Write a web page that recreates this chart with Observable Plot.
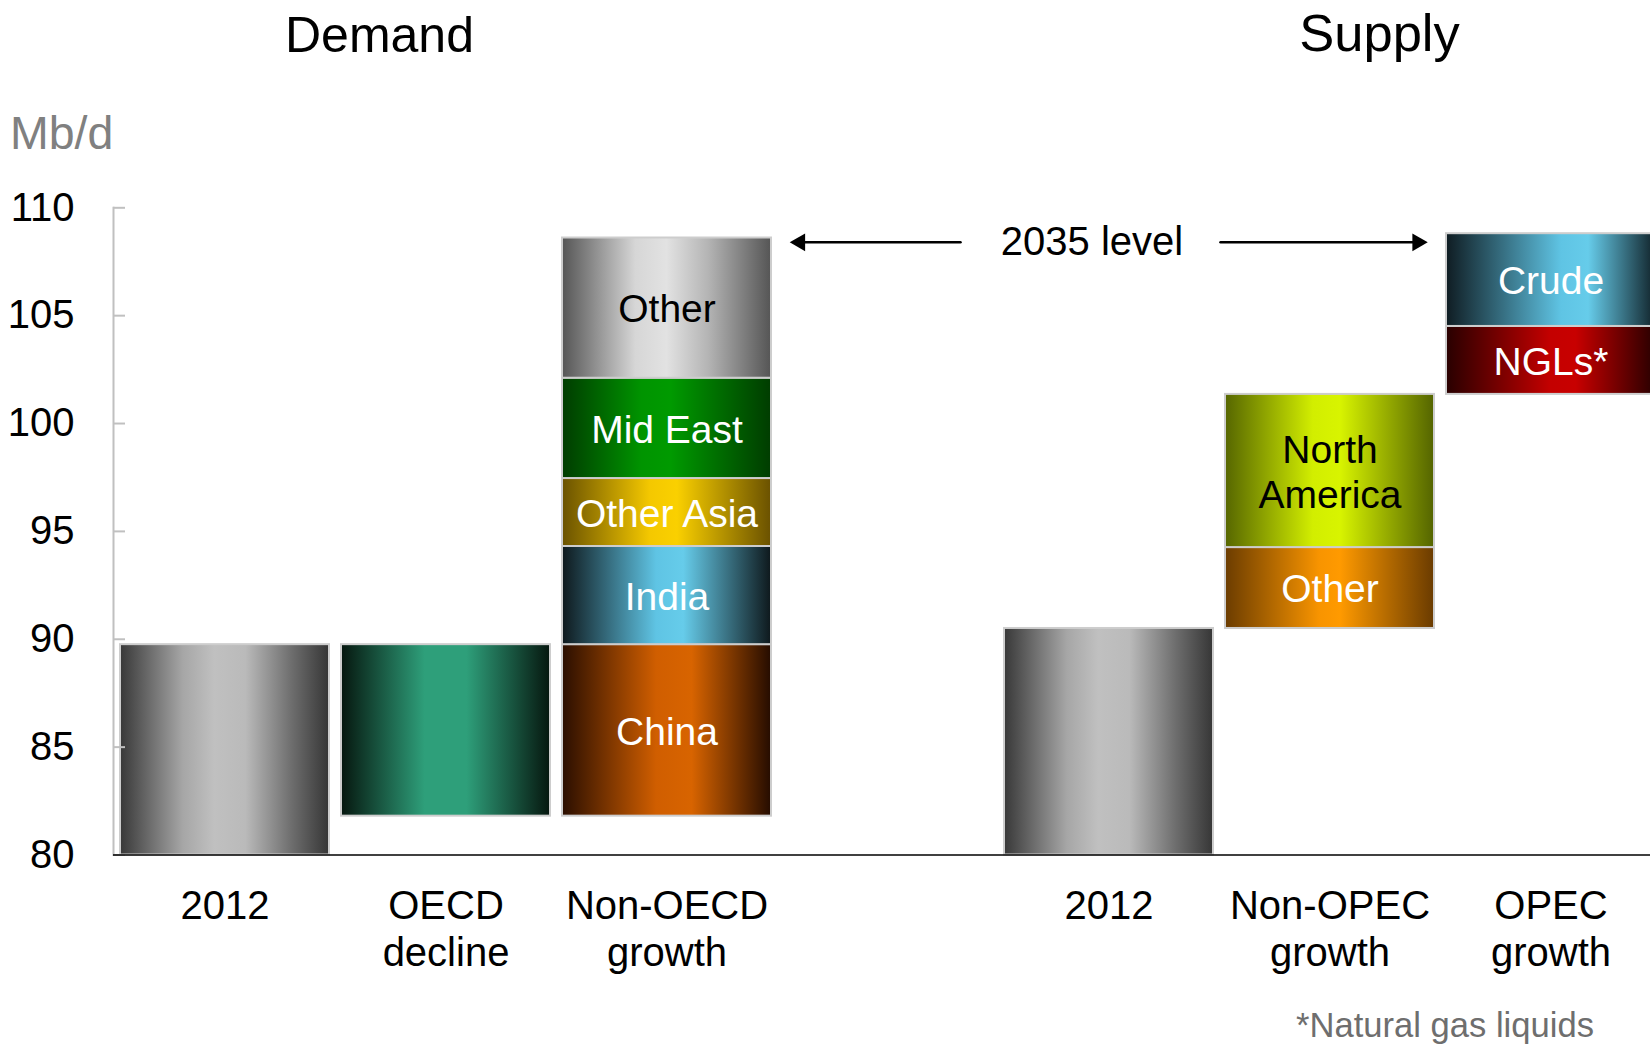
<!DOCTYPE html>
<html>
<head>
<meta charset="utf-8">
<script src="https://cdn.jsdelivr.net/npm/d3@7"></script>
<script src="https://cdn.jsdelivr.net/npm/@observablehq/plot@0.6"></script>
<style>
  html, body { margin: 0; padding: 0; background: #fff; overflow: hidden; }
  #wrap { position: relative; width: 1650px; height: 1045px; overflow: hidden; background: #fff; font-family: "Liberation Sans", Arial, sans-serif; }
  #wrap svg { position: absolute; left: 0; top: 0; max-width: none; }
  .ov { position: absolute; line-height: 1; white-space: nowrap; }
</style>
</head>
<body>
<div id="wrap">
  <div class="ov" style="left:379.5px; top:9.5px; font-size:50px; transform:translateX(-50%); color:#000;">Demand</div>
  <div class="ov" style="left:1379.5px; top:7px; font-size:52.5px; transform:translateX(-50%); color:#000;">Supply</div>
  <div class="ov" style="left:10px; top:110px; font-size:46.5px; color:#808080;">Mb/d</div>
  <div class="ov" style="left:1445px; top:1008px; font-size:34.6px; transform:translateX(-50%); color:#6e6e6e;">*Natural gas liquids</div>
</div>
<script>
// ---------------- data ----------------
const categories = ["Demand 2012", "OECD decline", "Non-OECD growth", "gap", "Supply 2012", "Non-OPEC growth", "OPEC growth"];
const tickLabels = ["2012", "OECD\ndecline", "Non-OECD\ngrowth", "", "2012", "Non-OPEC\ngrowth", "OPEC\ngrowth"];
const yTicks = [80, 85, 90, 95, 100, 105, 110];

const demand2012 = 89.75;                 // Mb/d
const oecdDecline = 7.95;                 // 89.75 -> 81.8
const nonOecdRegions = ["China", "India", "Other Asia", "Mid East", "Other"];
const nonOecdGrowth  = [7.95, 4.55, 3.15, 4.65, 6.5];

const supply2012 = 90.5;
const nonOpecSources = ["Other", "North\nAmerica"];
const nonOpecGrowth  = [3.75, 7.1];
const opecSources = ["NGLs*", "Crude"];
const opecGrowth  = [3.15, 4.3];

const level2035 = 108.4;                  // height of the "2035 level" annotation

// ---------------- styles ----------------
const FONT = "Liberation Sans, Arial, sans-serif";
const gradients = {
  "g-gray":      [[0, "#383838"], [0.3, "#a6a6a6"], [0.45, "#c0c0c0"], [0.6, "#bababa"], [0.82, "#6e6e6e"], [1, "#363636"]],
  "g-oecd":      [[0, "#06170f"], [0.4, "#2e9f7a"], [0.6, "#2e9f7a"], [1, "#06170f"]],
  "g-other-d":   [[0, "#555555"], [0.35, "#d6d6d6"], [0.5, "#e2e2e2"], [0.7, "#b4b4b4"], [1, "#555555"]],
  "g-mideast":   [[0, "#003c00"], [0.38, "#009400"], [0.52, "#009a00"], [1, "#003c00"]],
  "g-otherasia": [[0, "#6a5200"], [0.42, "#f4c800"], [0.55, "#fad000"], [1, "#6a5100"]],
  "g-india":     [[0, "#0e181c"], [0.45, "#5fc4e4"], [0.58, "#66ccea"], [1, "#0e181c"]],
  "g-china":     [[0, "#2a0e00"], [0.45, "#d05e00"], [0.62, "#d86400"], [1, "#250c00"]],
  "g-northam":   [[0, "#566600"], [0.42, "#d2ee00"], [0.55, "#d8f400"], [1, "#546400"]],
  "g-other-s":   [[0, "#6b3c00"], [0.45, "#f89400"], [0.55, "#ff9a00"], [1, "#6a3b00"]],
  "g-crude":     [[0, "#0f1c22"], [0.55, "#5fc4e4"], [0.68, "#66ccea"], [1, "#11232a"]],
  "g-ngl":       [[0, "#280000"], [0.5, "#c40000"], [0.62, "#c80000"], [1, "#280000"]]
};
const demandGrads = ["g-china", "g-india", "g-otherasia", "g-mideast", "g-other-d"];
const demandInk   = ["#fff", "#fff", "#fff", "#fff", "#000"];
const nonOpecGrads = ["g-other-s", "g-northam"];
const nonOpecInk   = ["#fff", "#000"];
const opecGrads = ["g-ngl", "g-crude"];
const opecInk   = ["#fff", "#fff"];

// ---------------- build waterfall segments ----------------
const bars = [];
bars.push({cat: categories[0], y1: 80, y2: demand2012, fill: "url(#g-gray)", label: null, ink: "#fff"});
bars.push({cat: categories[1], y1: demand2012 - oecdDecline, y2: demand2012, fill: "url(#g-oecd)", label: null, ink: "#fff"});
let base = demand2012 - oecdDecline;
nonOecdRegions.forEach((r, i) => {
  bars.push({cat: categories[2], y1: base, y2: base + nonOecdGrowth[i], fill: `url(#${demandGrads[i]})`, label: r, ink: demandInk[i]});
  base += nonOecdGrowth[i];
});
bars.push({cat: categories[4], y1: 80, y2: supply2012, fill: "url(#g-gray)", label: null, ink: "#fff"});
base = supply2012;
nonOpecSources.forEach((r, i) => {
  bars.push({cat: categories[5], y1: base, y2: base + nonOpecGrowth[i], fill: `url(#${nonOpecGrads[i]})`, label: r, ink: nonOpecInk[i]});
  base += nonOpecGrowth[i];
});
opecSources.forEach((r, i) => {
  bars.push({cat: categories[6], y1: base, y2: base + opecGrowth[i], fill: `url(#${opecGrads[i]})`, label: r, ink: opecInk[i]});
  base += opecGrowth[i];
});

const arrowLeft  = [{from: categories[4], to: categories[2], y: level2035}];
const arrowRight = [{from: categories[4], to: categories[6], y: level2035}];

const chart = Plot.plot({
  width: 1650,
  height: 1045,
  marginTop: 207.3,
  marginBottom: 190.5,
  marginLeft: 113,
  marginRight: 0,
  style: {fontFamily: FONT, background: "transparent", color: "#000"},
  x: {type: "band", domain: categories, range: [111.5, 1663], paddingInner: 0.0564, paddingOuter: 0.027, align: 0.5},
  y: {domain: [80, 110], range: [854.5, 207.3]},
  color: {type: "identity"},
  marks: [
    Plot.barY(bars, {x: "cat", y1: "y1", y2: "y2", fill: "fill", stroke: "#cdcdcd", strokeWidth: 2}),
    Plot.text(bars.filter(d => d.label), {
      x: "cat", y: d => (d.y1 + d.y2) / 2, text: "label", fill: "ink",
      fontSize: 39, lineHeight: 1.15
    }),
    Plot.frame({anchor: "left", stroke: "#c0c0c0", strokeWidth: 2}),
    Plot.axisY({ticks: yTicks, tickSize: 12, dx: 12, tickFormat: () => "", stroke: "#c0c0c0", strokeWidth: 2, label: null}),
    Plot.axisY({ticks: yTicks, tickSize: 0, tickPadding: 39, fontSize: 40, fill: "#000", label: null, tickFormat: d => String(d)}),
    Plot.ruleY([80], {stroke: "#000", strokeWidth: 1.5}),
    Plot.axisX({tickSize: 0, tickPadding: 31, fontSize: 40, lineHeight: 1.17, fill: "#000", label: null,
      tickFormat: d => tickLabels[categories.indexOf(d)]}),
    // 2035 level annotation
    Plot.arrow(arrowLeft, {x1: "from", x2: "to", y1: "y", y2: "y", stroke: "#000", strokeWidth: 2.5,
      headLength: 0, insetStart: 148.5, insetEnd: 130}),
    Plot.arrow(arrowRight, {x1: "from", x2: "to", y1: "y", y2: "y", stroke: "#000", strokeWidth: 2.5,
      headLength: 0, insetStart: 111.5, insetEnd: 130}),
    Plot.dot(arrowLeft, {x: "to", y: "y", symbol: "triangle2", r: 8.5, fill: "#000", rotate: -90, dx: 133}),
    Plot.dot(arrowRight, {x: "to", y: "y", symbol: "triangle2", r: 8.5, fill: "#000", rotate: 90, dx: -133.5}),
    Plot.text(arrowLeft, {x: "from", y: "y", text: () => "2035 level", fontSize: 40, fill: "#000", dx: -17})
  ]
});

// gradient definitions
const defs = d3.select(chart).insert("defs", ":first-child");
for (const [id, stops] of Object.entries(gradients)) {
  const g = defs.append("linearGradient").attr("id", id)
    .attr("x1", "0").attr("y1", "0").attr("x2", "1").attr("y2", "0");
  stops.forEach(([o, c]) => g.append("stop").attr("offset", o).attr("stop-color", c));
}

document.getElementById("wrap").prepend(chart);
</script>
</body>
</html>
